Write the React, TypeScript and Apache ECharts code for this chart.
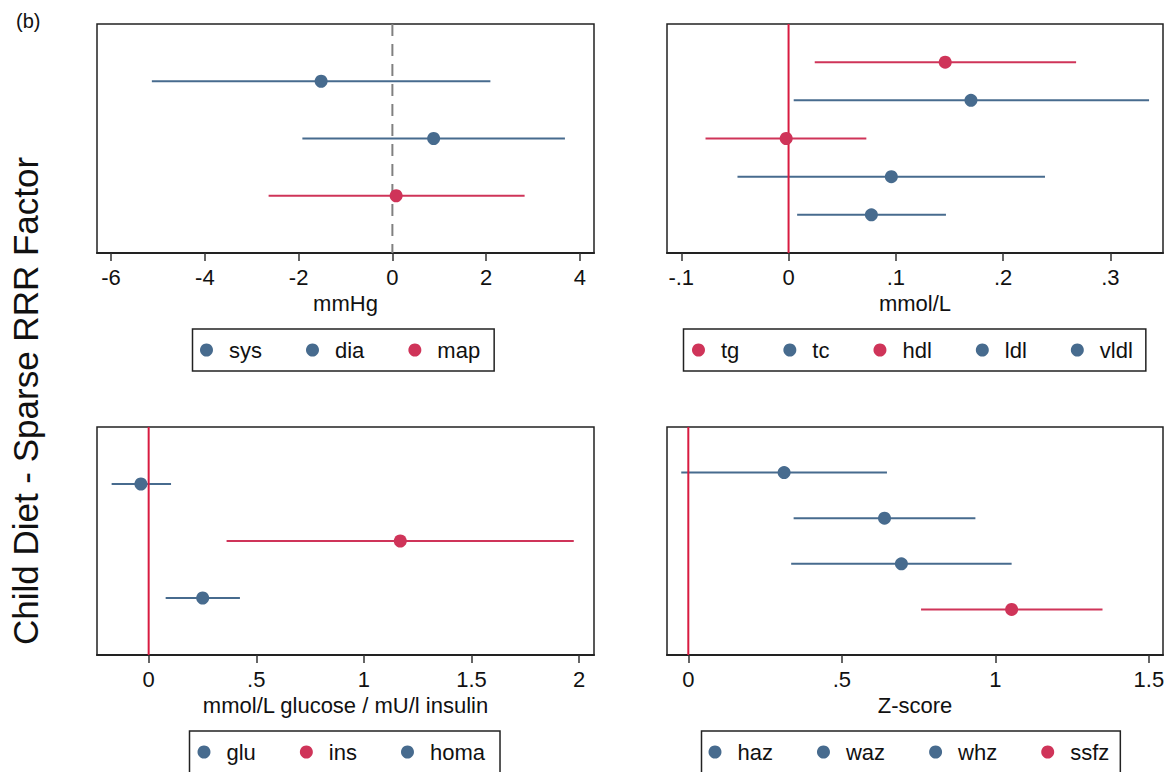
import React, { useEffect, useRef } from "react";
import * as echarts from "echarts";

// ---------- data ----------
const bpLabels = ["sys", "dia", "map"];
const bpEst = [-1.52, 0.88, 0.08];
const bpLo = [-5.13, -1.92, -2.64];
const bpHi = [2.09, 3.68, 2.82];
const bpHighlighted = ["map"];
const bpTicks = [-6, -4, -2, 0, 2, 4];

const lipidLabels = ["tg", "tc", "hdl", "ldl", "vldl"];
const lipidEst = [0.146, 0.17, -0.0022, 0.0958, 0.0772];
const lipidLo = [0.0244, 0.0048, -0.0774, -0.0476, 0.008];
const lipidHi = [0.268, 0.336, 0.0725, 0.239, 0.1467];
const lipidHighlighted = ["tg", "hdl"];
const lipidTicks = [-0.1, 0, 0.1, 0.2, 0.3];

const gluLabels = ["glu", "ins", "homa"];
const gluEst = [-0.036, 1.169, 0.251];
const gluLo = [-0.172, 0.362, 0.079];
const gluHi = [0.104, 1.975, 0.424];
const gluHighlighted = ["ins"];
const gluTicks = [0, 0.5, 1, 1.5, 2];

const zLabels = ["haz", "waz", "whz", "ssfz"];
const zEst = [0.312, 0.639, 0.694, 1.053];
const zLo = [-0.023, 0.343, 0.335, 0.758];
const zHi = [0.647, 0.935, 1.053, 1.349];
const zHighlighted = ["ssfz"];
const zTicks = [0, 0.5, 1, 1.5];

// ---------- styles ----------
const FONT = "'Liberation Sans', Arial, Helvetica, sans-serif";
const BLUE = "#476b8e";
const RED = "#cf3459";
const REFRED = "#d81b40";

const panels = [
  {
    labels: bpLabels, est: bpEst, lo: bpLo, hi: bpHi, hl: bpHighlighted, ticks: bpTicks,
    min: -6.3, max: 4.3, name: "mmHg",
    grid: { left: 97, top: 24, width: 497, height: 229 },
    dashedRef: true,
    legend: { left: 192.5, top: 329, padL: 7.5, padR: 14 },
  },
  {
    labels: lipidLabels, est: lipidEst, lo: lipidLo, hi: lipidHi, hl: lipidHighlighted, ticks: lipidTicks,
    min: -0.1133, max: 0.349, name: "mmol/L",
    grid: { left: 667, top: 24, width: 496, height: 229 },
    dashedRef: false,
    legend: { left: 683.5, top: 329, padL: 8.5, padR: 13 },
  },
  {
    labels: gluLabels, est: gluEst, lo: gluLo, hi: gluHi, hl: gluHighlighted, ticks: gluTicks,
    min: -0.24, max: 2.069, name: "mmol/L glucose / mU/l insulin",
    grid: { left: 97, top: 427, width: 497, height: 228 },
    dashedRef: false,
    legend: { left: 189.5, top: 731, padL: 8, padR: 15 },
  },
  {
    labels: zLabels, est: zEst, lo: zLo, hi: zHi, hl: zHighlighted, ticks: zTicks,
    min: -0.0694, max: 1.546, name: "Z-score",
    grid: { left: 667, top: 427, width: 496, height: 228 },
    dashedRef: false,
    legend: { left: 701.5, top: 731, padL: 7, padR: 11 },
  },
];

function fmt(v: number): string {
  const s = String(Math.round(v * 1000) / 1000);
  return s.replace(/^(-?)0\./, "$1.");
}

function buildOption() {
  const grid: any[] = [];
  const xAxis: any[] = [];
  const yAxis: any[] = [];
  const series: any[] = [];
  const legend: any[] = [];

  panels.forEach((p, i) => {
    const n = p.labels.length;
    grid.push({
      ...p.grid,
      show: true,
      borderColor: "#222",
      borderWidth: 1.5,
      backgroundColor: "#fff",
      containLabel: false,
    });
    xAxis.push({
      type: "value",
      gridIndex: i,
      min: p.min,
      max: p.max,
      axisLine: { show: true, onZero: false, lineStyle: { color: "#222", width: 2 } },
      axisTick: {
        show: true,
        inside: false,
        length: 8,
        customValues: p.ticks,
        lineStyle: { color: "#333", width: 1.5 },
      },
      axisLabel: {
        customValues: p.ticks,
        formatter: (v: number) => fmt(v),
        fontSize: 22,
        color: "#111",
        fontFamily: FONT,
        margin: 13,
      },
      splitLine: { show: false },
      name: p.name,
      nameLocation: "middle",
      nameGap: 39,
      nameTextStyle: { fontSize: 22, color: "#111", fontFamily: FONT },
    });
    yAxis.push({
      type: "value",
      gridIndex: i,
      min: 0,
      max: n + 1,
      inverse: true,
      show: false,
    });

    p.labels.forEach((lab, j) => {
      const color = p.hl.includes(lab) ? RED : BLUE;
      series.push({
        type: "custom",
        name: lab,
        xAxisIndex: i,
        yAxisIndex: i,
        z: 1,
        silent: true,
        itemStyle: { color },
        encode: { x: [0, 1], y: 2 },
        data: [[p.lo[j], p.hi[j], j + 1]],
        renderItem: (params: any, api: any) => {
          const a = api.coord([api.value(0), api.value(2)]);
          const b = api.coord([api.value(1), api.value(2)]);
          return {
            type: "line",
            shape: { x1: a[0], y1: a[1], x2: b[0], y2: b[1] },
            style: { stroke: color, lineWidth: 2 },
          };
        },
      });
      series.push({
        type: "scatter",
        name: lab,
        xAxisIndex: i,
        yAxisIndex: i,
        z: 3,
        symbol: "circle",
        symbolSize: 13,
        itemStyle: { color, opacity: 1 },
        data: [[p.est[j], j + 1]],
      });
    });

    series.push({
      type: "line",
      name: "ref" + i,
      xAxisIndex: i,
      yAxisIndex: i,
      z: 2,
      silent: true,
      symbol: "none",
      data: [
        [0, 0],
        [0, n + 1],
      ],
      lineStyle: p.dashedRef
        ? { color: "#808080", width: 2, type: [12, 8] }
        : { color: REFRED, width: 2, type: "solid" },
    });

    legend.push({
      data: p.labels,
      left: p.legend.left,
      top: p.legend.top,
      orient: "horizontal",
      icon: "circle",
      itemWidth: 13,
      itemHeight: 13,
      itemGap: 44,
      padding: [10, p.legend.padR, 10, p.legend.padL],
      borderColor: "#222",
      borderWidth: 1.5,
      backgroundColor: "#fff",
      selectedMode: false,
      textStyle: { fontSize: 22, color: "#111", fontFamily: FONT, padding: [0, 0, 0, 11] },
    });
  });

  return {
    animation: false,
    backgroundColor: "#fff",
    grid,
    xAxis,
    yAxis,
    series,
    legend,
    graphic: [
      {
        type: "text",
        x: 16,
        y: 21,
        style: {
          text: "(b)",
          fontSize: 20,
          fontFamily: FONT,
          fill: "#111",
          align: "left",
          verticalAlign: "middle",
        },
      },
      {
        type: "text",
        x: 25,
        y: 401,
        rotation: Math.PI / 2,
        style: {
          text: "Child Diet - Sparse RRR Factor",
          fontSize: 35,
          fontFamily: FONT,
          fill: "#111",
          align: "center",
          verticalAlign: "middle",
        },
      },
    ],
  };
}

export default function App() {
  const ref = useRef<HTMLDivElement>(null);
  useEffect(() => {
    document.body.style.margin = "0";
    if (!ref.current) return;
    const chart = echarts.init(ref.current, undefined, { renderer: "svg" });
    chart.setOption(buildOption() as any);
    return () => chart.dispose();
  }, []);
  return (
    <div
      ref={ref}
      style={{ position: "fixed", left: 0, top: 0, width: 1169, height: 772, background: "#fff" }}
    />
  );
}
